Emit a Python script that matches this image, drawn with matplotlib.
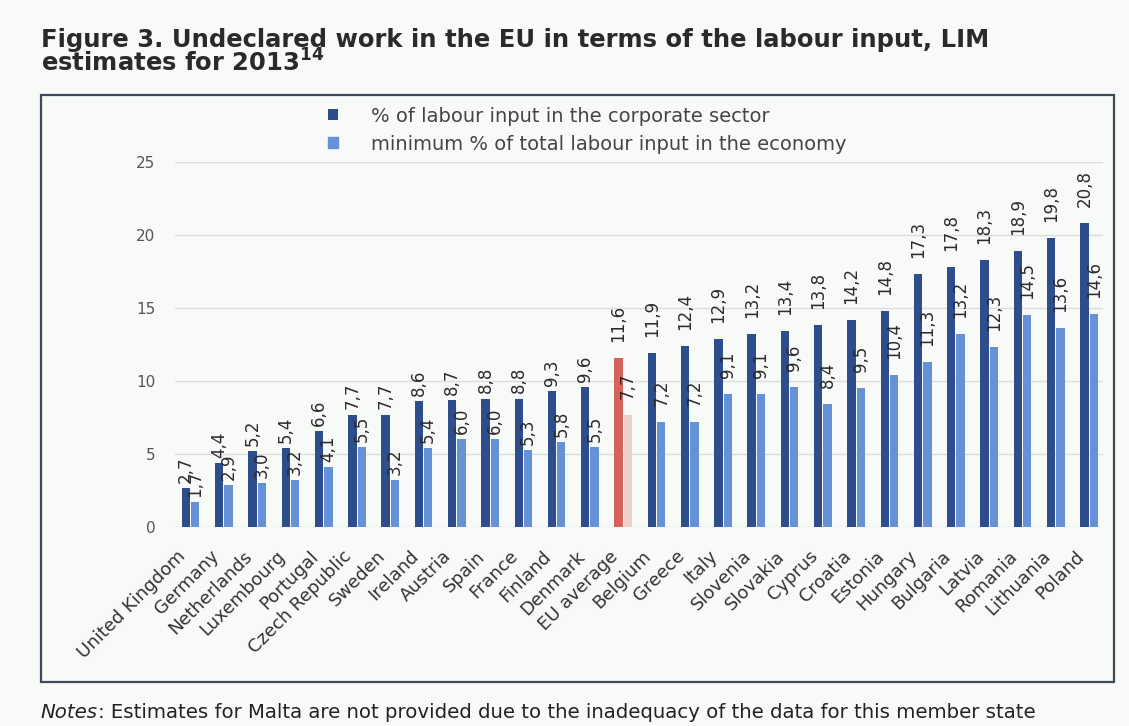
import matplotlib.pyplot as plt
from matplotlib.patches import Rectangle
from matplotlib.transforms import ScaledTranslation
import numpy as np

countries = ['United Kingdom', 'Germany', 'Netherlands', 'Luxembourg', 'Portugal',
             'Czech Republic', 'Sweden', 'Ireland', 'Austria', 'Spain', 'France',
             'Finland', 'Denmark', 'EU average', 'Belgium', 'Greece', 'Italy',
             'Slovenia', 'Slovakia', 'Cyprus', 'Croatia', 'Estonia', 'Hungary',
             'Bulgaria', 'Latvia', 'Romania', 'Lithuania', 'Poland']
corporate = [2.7, 4.4, 5.2, 5.4, 6.6, 7.7, 7.7, 8.6, 8.7, 8.8, 8.8, 9.3, 9.6, 11.6,
             11.9, 12.4, 12.9, 13.2, 13.4, 13.8, 14.2, 14.8, 17.3, 17.8, 18.3,
             18.9, 19.8, 20.8]
economy = [1.7, 2.9, 3.0, 3.2, 4.1, 5.5, 3.2, 5.4, 6.0, 6.0, 5.3, 5.8, 5.5, 7.7,
           7.2, 7.2, 9.1, 9.1, 9.6, 8.4, 9.5, 10.4, 11.3, 13.2, 12.3, 14.5, 13.6, 14.6]

dark = '#2e4d8c'
light = '#6592d6'
red = '#d8615a'
pink = '#edcfcb'
bg = '#f8faf8'

plt.rcParams['font.family'] = 'DejaVu Sans'

fig = plt.figure(figsize=(11.29, 7.26), dpi=100, facecolor=bg)
ax = fig.add_axes([0.155, 0.274, 0.822, 0.503])
ax.set_facecolor(bg)

x = np.arange(len(countries))
w = 0.25
eu = countries.index('EU average')
c1 = [red if i == eu else dark for i in x]
c2 = [pink if i == eu else light for i in x]
b1 = ax.bar(x - 0.14, corporate, w, color=c1, zorder=3)
b2 = ax.bar(x + 0.14, economy, w, color=c2, zorder=3)

def fmt(v):
    return ('%.1f' % v).replace('.', ',')

# labels on the right half sit a bit higher above their bars
for i, (v1, v2) in enumerate(zip(corporate, economy)):
    off = 0.35 if i < eu else 1.1
    ax.text(i - 0.14, v1 + off, fmt(v1), rotation=90, ha='center', va='bottom',
            fontsize=12, color='#2b2b2b', clip_on=False)
    ax.text(i + 0.14, v2 + off, fmt(v2), rotation=90, ha='center', va='bottom',
            fontsize=12, color='#2b2b2b', clip_on=False)

ax.set_xlim(-0.47, len(countries) - 0.58)
ax.set_ylim(0, 25)
ax.set_yticks([0, 5, 10, 15, 20, 25])
ax.yaxis.grid(True, color='#dcdedc', linewidth=1, zorder=0)
ax.tick_params(axis='y', length=0, pad=14, labelsize=11, labelcolor='#555555')
ax.set_xticks(x)
ax.set_xticklabels(countries, rotation=45, ha='right', va='center',
                   rotation_mode='anchor', fontsize=13, color='#333333')
ax.tick_params(axis='x', length=0, pad=19)
shift = ScaledTranslation(-0.08, 0, fig.dpi_scale_trans)
for lbl in ax.get_xticklabels():
    lbl.set_transform(lbl.get_transform() + shift)
for s in ax.spines.values():
    s.set_visible(False)

leg = ax.legend([b1[0], b2[0]],
                ['% of labour input in the corporate sector',
                 'minimum % of total labour input in the economy'],
                loc='upper left', bbox_to_anchor=(0.275, 0.877),
                bbox_transform=fig.transFigure, frameon=False, fontsize=14,
                handlelength=0.5, handleheight=0.5, handletextpad=1.7,
                labelspacing=0.45, labelcolor='#444444')
leg.legend_handles[1].set_color(light)

# outer frame around the chart
fig.patches.append(Rectangle((0.036, 0.061), 0.951, 0.808, transform=fig.transFigure,
                             fill=False, edgecolor='#3e4a58', linewidth=1.6))

fig.text(0.036, 0.935, 'Figure 3. Undeclared work in the EU in terms of the labour input, LIM',
         fontsize=17.5, fontweight='bold', color='#2a2a2a')
fig.text(0.036, 0.901, r'estimates for 2013$^{\mathbf{14}}$',
         fontsize=17.5, fontweight='bold', color='#2a2a2a')

notes = fig.text(0.036, 0.011, 'Notes', fontsize=14.2, style='italic', color='#222222')
ax.annotate(': Estimates for Malta are not provided due to the inadequacy of the data for this member state',
            xy=(1, 0), xycoords=notes, va='bottom', ha='left',
            fontsize=14.2, color='#222222', annotation_clip=False)

fig.savefig('out.png', dpi=100, facecolor=bg)
